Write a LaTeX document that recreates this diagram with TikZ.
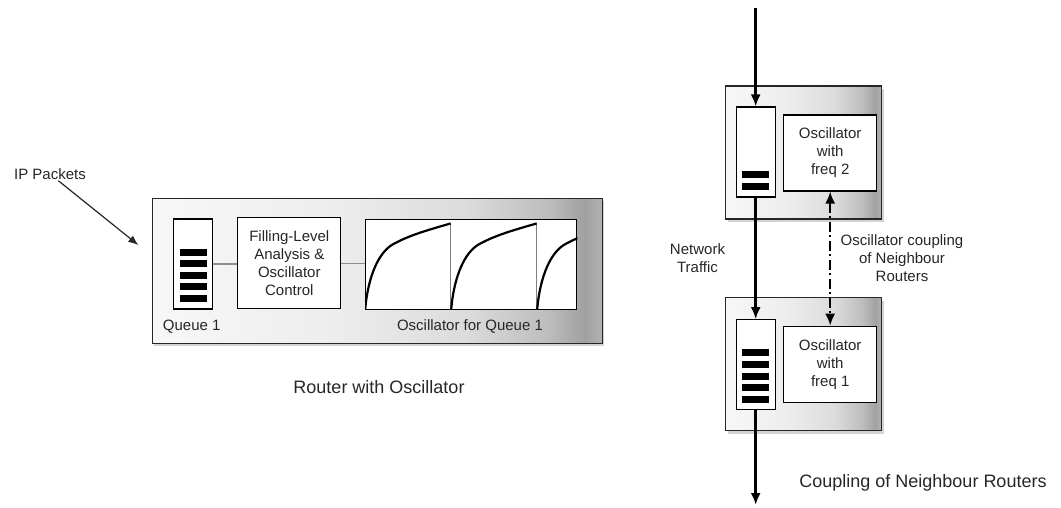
\documentclass[tikz,border=0pt]{standalone}
\usepackage{fontspec}
\setmainfont{Liberation Sans}
\usepackage{tikz}
\usetikzlibrary{arrows.meta,calc,shadows}
\pgfdeclarehorizontalshading{routershade}{100bp}{color(0bp)=(white!97!black);
    color(25bp)=(white!97!black); color(45bp)=(black!7); color(60bp)=(black!14);
    color(69bp)=(black!26); color(73bp)=(black!37); color(75bp)=(black!30);
    color(100bp)=(black!30)}
\tikzstyle{router}=[draw=black!85, line width=1.5pt, shading=routershade,
    drop shadow={shadow xshift=2pt, shadow yshift=-3pt, opacity=.35},
    minimum width=156pt, minimum height=133pt, inner sep=0pt]
\tikzstyle{queue}=[draw, fill=white, line width=1.1pt, minimum width=39pt, minimum height=90pt, inner sep=0pt]
\tikzstyle{osc}=[draw, fill=white, line width=1.1pt, align=center, inner sep=0pt,
    minimum width=93pt, minimum height=76pt, text=black!85, font=\fontsize{15}{18}\selectfont]
\tikzstyle{txt}=[align=center, inner sep=1pt, text=black!85, font=\fontsize{15}{17.7}\selectfont]
\tikzstyle{title}=[txt, font=\fontsize{18}{21}\selectfont]
\newcommand{\router}{\node[router]}
\newcommand{\queue}{\node[queue]}
\newcommand{\osc}{\node[osc]}
% black bars of a queue, counted from the bottom
\newcommand{\fillq}[2]{\foreach \i in {1,...,#2}
    \fill ($(#1.south)+(-13.5,-7.5-11.6*\i+11.6)$) rectangle +(27,-7);}

\begin{document}
\begin{tikzpicture}[x=1pt, y=-1pt
    ,flow/.style={draw, line width=2.6pt, -{Latex[length=12pt,width=10pt]}}
    ,pkt/.style={draw, black!85, line width=1.2pt, -{Latex[length=10pt,width=8pt]}}
    ,link/.style={draw, black!45, line width=1.3pt}
    ,coupling/.style={draw, line width=2pt,
        {Latex[length=12pt,width=10pt]}-{Latex[length=12pt,width=10pt]},
        dash pattern=on 10pt off 3.5pt on 2pt off 3.5pt}
]
\useasboundingbox (0,0) rectangle (1061,507);

% router with oscillator
\router[minimum width=450pt, minimum height=145pt] (rt) at (377.4,270.9) {};
\queue (q1) at (193.2,264) {};
\osc[minimum width=103pt, minimum height=91pt] (fla) at (289.3,263.3)
    {Filling-Level\\Analysis \&\\Oscillator\\Control};
\osc[minimum width=211pt, minimum height=90pt] (plot) at (471.2,264.2) {};
\fillq{q1}{5}
\path (q1.east) edge[link] (q1.east -| fla.west)
      (fla.east) edge[link] (fla.east -| plot.west);

% sawtooth of the oscillator
\begin{scope}
\clip (plot.south west) rectangle (plot.north east);
\foreach \s in {0,1,2} {
  \begin{scope}[shift={($(plot.south west)+(86*\s,0)$)}, yscale=-1]
    \draw[black!50, line width=.9pt] (85.5,86.3) -- (85.5,0);
    \draw[line width=2.2pt] (0,0) .. controls (3,35) and (14,57) .. (27,65)
        .. controls (43,74) and (60,79) .. (85.5,86.3);
  \end{scope}
}
\end{scope}

\node[txt] (ql) at (191.7,326.7) {Queue 1};
\node[txt] (pl) at (470,326.7) {Oscillator for Queue 1};
\node[title] (c1) at (379,386.7) {Router with Oscillator};
\node[txt] (ip) at (50,174) {IP Packets};
\coordinate (ipin) at (138.3,245);
\path (ip) edge[pkt] (ipin);

% two neighbour routers
\router (ra) at (803.7,152.5) {};
\router (rb) at (803.7,364.2) {};
\queue (qa) at (755.7,152) {};
\queue (qb) at (755.7,364.7) {};
\osc (oa) at (830.2,153) {Oscillator\\with\\freq 2};
\osc (ob) at (830.2,364.2) {Oscillator\\with\\freq 1};
\fillq{qa}{2}
\fillq{qb}{5}
\coordinate (in) at (755.7,8);
\coordinate (out) at (755.7,505);
\path (in) edge[flow] (qa)
      (qa) edge[flow] (qb)
      (qb) edge[flow] (out)
      (oa) edge[coupling] (ob);
\node[txt] (nt) at (697.5,258) {Network\\Traffic};
\node[txt] (oc) at (902,258) {Oscillator coupling\\of Neighbour\\Routers};
\node[title] (c2) at (923,483) {Coupling of Neighbour Routers};
\end{tikzpicture}
\end{document}
